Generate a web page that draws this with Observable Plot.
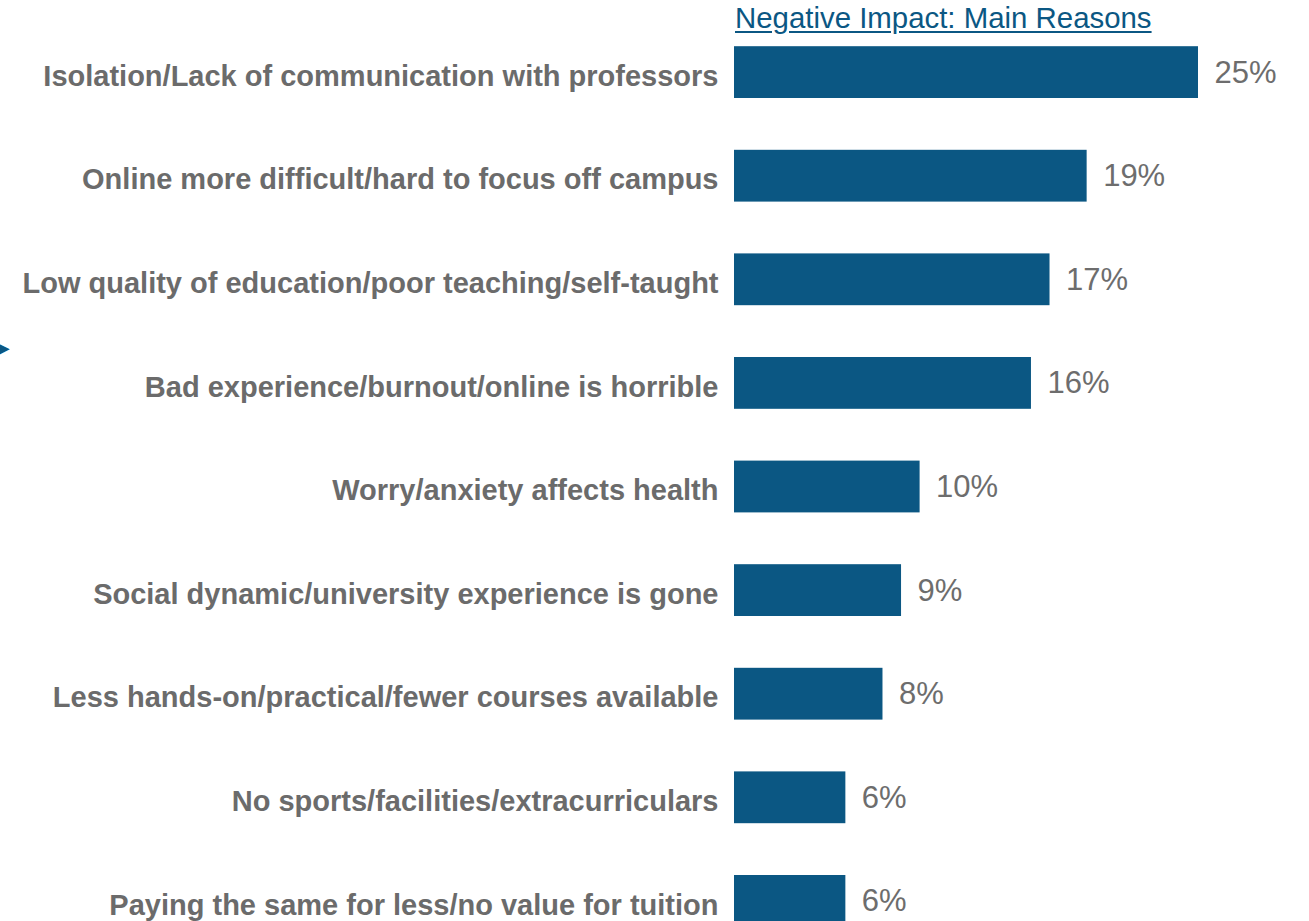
<!DOCTYPE html>
<html>
<head>
<meta charset="utf-8">
<script src="https://cdn.jsdelivr.net/npm/d3@7"></script>
<script src="https://cdn.jsdelivr.net/npm/@observablehq/plot@0.6"></script>
<style>
  html, body { margin: 0; padding: 0; background: #fff; }
  #wrap { position: relative; width: 1309px; height: 921px; overflow: hidden; }
  #title { position: absolute; left: 735px; top: 1px; font-family: "Liberation Sans", Arial, sans-serif;
           font-size: 29.4px; color: #0b5783; text-decoration: underline; text-underline-offset: 3px; white-space: nowrap; }
  #chart { position: absolute; left: 0; top: 0; }
</style>
</head>
<body>
<div id="wrap">
  <div id="title">Negative Impact: Main Reasons</div>
  <div id="chart"></div>
</div>
<script>
const reasons = [
  "Isolation/Lack of communication with professors",
  "Online more difficult/hard to focus off campus",
  "Low quality of education/poor teaching/self-taught",
  "Bad experience/burnout/online is horrible",
  "Worry/anxiety affects health",
  "Social dynamic/university experience is gone",
  "Less hands-on/practical/fewer courses available",
  "No sports/facilities/extracurriculars",
  "Paying the same for less/no value for tuition"
];
const shares = [25, 19, 17, 16, 10, 9, 8, 6, 6];

const data = reasons.map((r, i) => ({reason: r, value: shares[i]}));

const chart = Plot.plot({
  width: 1309,
  height: 921,
  marginLeft: 0,
  marginRight: 0,
  marginTop: 0,
  marginBottom: 0,
  style: {fontFamily: "'Liberation Sans', Arial, sans-serif", background: "transparent", overflow: "hidden"},
  x: {domain: [0, 25], range: [734, 1198], axis: null},
  y: {domain: reasons, range: [-5.6, 978.6], padding: 0.5, round: false, axis: null},
  marks: [
    Plot.barX(data, {x: "value", y: "reason", fill: "#0b5783"}),
    Plot.text(data, {x: 0, y: "reason", text: "reason", textAnchor: "end", dx: -16, dy: 4,
      fontSize: 29, fontWeight: "bold", fill: "#6b6b6b"}),
    Plot.text(data, {x: "value", y: "reason", text: d => d.value + "%", textAnchor: "start", dx: 16,
      fontSize: 31, fill: "#6d6d6d"}),
    Plot.text(["▶"], {frameAnchor: "left", dy: -112, text: d => d, fontSize: 14, fill: "#0b5783", dx: -2})
  ]
});
document.getElementById("chart").appendChild(chart);
</script>
</body>
</html>
